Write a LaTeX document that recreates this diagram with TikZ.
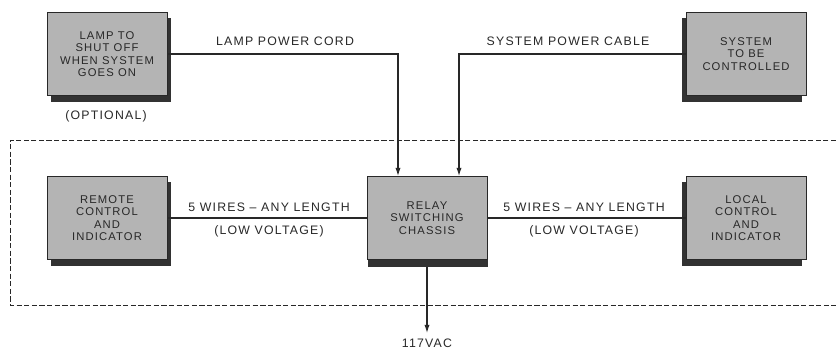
\documentclass[tikz,border=0pt]{standalone}
\usepackage{fontspec}
\setsansfont[LetterSpace=10]{Liberation Sans}
\usetikzlibrary{arrows.meta,shadows}
\definecolor{boxgray}{RGB}{180,180,180}
\definecolor{edgegray}{RGB}{50,50,50}
\definecolor{inkgray}{RGB}{40,40,40}

\tikzset{
  unit/.style={draw=inkgray, fill=boxgray, line width=0.5pt, minimum width=3.6cm,
    minimum height=2.5cm, align=center, inner sep=1pt, text=inkgray,
    font=\sffamily\fontsize{9.6}{10.6}\selectfont},
  rshade/.style={drop shadow={shadow xshift=3.5pt, shadow yshift=-5pt, fill=edgegray, opacity=1}},
  lshade/.style={drop shadow={shadow xshift=-3.5pt, shadow yshift=-5pt, fill=edgegray, opacity=1}},
  bshade/.style={drop shadow={shadow xshift=0.5pt, shadow yshift=-6pt, fill=edgegray, opacity=1}},
  tag/.style={text=inkgray, font=\sffamily\fontsize{10.5}{12}\selectfont, inner sep=0pt},
  wire/.style={draw=inkgray, line width=1pt},
  feed/.style={wire, -{Latex[length=7pt,width=4.5pt]}},
  fence/.style={draw=inkgray, line width=0.85pt, dash pattern=on 4.5pt off 2pt}
}

\begin{document}
\begin{tikzpicture}[x=0.03cm, y=-0.03cm]
  \useasboundingbox[fill=white] (0,0) rectangle (836,351);

  % boundary of the switching installation
  \draw[fence] (836,140) -- (10,140) -- (10,305) -- (836,305);

  \node[unit, rshade] (lamp) at (107,54) {LAMP TO\\SHUT OFF\\WHEN SYSTEM\\GOES ON};
  \node[unit, lshade] (system) at (746,54) {SYSTEM\\TO BE\\CONTROLLED};
  \node[unit, rshade] (remote) at (107,218) {REMOTE\\CONTROL\\AND\\INDICATOR};
  \node[unit, bshade] (relay) at (427,218) {RELAY\\SWITCHING\\CHASSIS};
  \node[unit, lshade] (local) at (746,218) {LOCAL\\CONTROL\\AND\\INDICATOR};
  \coordinate (mains) at (427,333);

  \node[tag] (optional) at (106,116) {(OPTIONAL)};
  \node[tag] (cordlabel) at (285,41) {LAMP POWER CORD};
  \node[tag] (cablelabel) at (568,41) {SYSTEM POWER CABLE};
  \node[tag] (wiresL) at (269,207) {5 WIRES -- ANY LENGTH};
  \node[tag] (voltL) at (269,231) {(LOW VOLTAGE)};
  \node[tag] (wiresR) at (584,207) {5 WIRES -- ANY LENGTH};
  \node[tag] (voltR) at (584,231) {(LOW VOLTAGE)};
  \node[tag, below=5pt] (vac) at (mains) {117VAC};

  \draw[feed] (lamp.east) -| ([xshift=-0.87cm]relay.north);
  \draw[feed] (system.west) -| ([xshift=0.96cm]relay.north);
  \draw[wire] (remote.east) -- (relay.west);
  \draw[wire] (relay.east) -- (local.west);
  \draw[feed] ([yshift=-6pt]relay.south) -- (mains);
\end{tikzpicture}
\end{document}
